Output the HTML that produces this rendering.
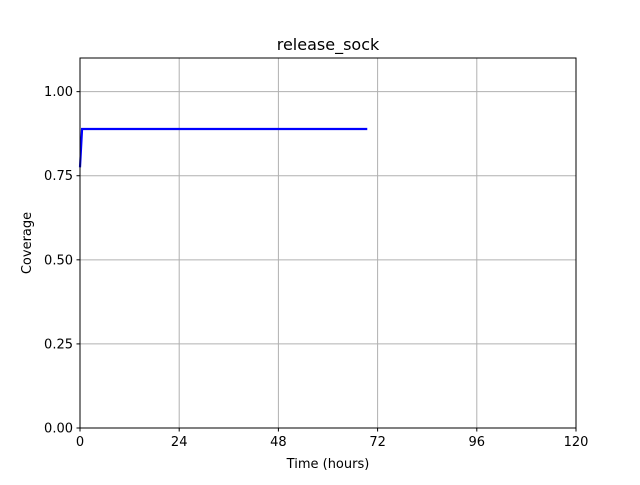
<!DOCTYPE html>
<html><head><meta charset="utf-8"><style>
body{margin:0;background:#fff;}
text{font-family:"DejaVu Sans","Liberation Sans",sans-serif;}
</style></head><body>
<svg id="chart" width="640" height="480" xmlns="http://www.w3.org/2000/svg">
<rect width="640" height="480" fill="#fff"/>
<g id="grid"></g><g id="ticks"></g><g id="series"></g>
<rect x="80" y="58" width="496" height="370" fill="none" stroke="#000" stroke-width="1"/>
<text x="328" y="50" font-size="16" text-anchor="middle">release_sock</text>
<text x="328" y="468" font-size="13" text-anchor="middle">Time (hours)</text>
<text transform="translate(31,243) rotate(-90)" font-size="13" text-anchor="middle">Coverage</text>
</svg>
<script>
const xTicks=[0,24,48,72,96,120];
const yTicks=[0,0.25,0.5,0.75,1.0];
const yTickLabels=["0.00","0.25","0.50","0.75","1.00"];
const timeHours=[0,0.5,69.5];
const coverage=[0.775,0.889,0.889];
const X=v=>80+v/120*496, Y=v=>428-v/1.1*370;
const ns="http://www.w3.org/2000/svg";
const g=document.getElementById('grid'),t=document.getElementById('ticks'),s=document.getElementById('series');
function mk(p,tag,a){const e=document.createElementNS(ns,tag);for(const k in a)e.setAttribute(k,a[k]);p.appendChild(e);return e;}
xTicks.forEach(v=>{
 const l=mk(g,'line',{x1:X(v),x2:X(v),y1:58,y2:428,stroke:'#b0b0b0','stroke-width':1});
 
 
 mk(t,'line',{x1:X(v),x2:X(v),y1:428,y2:431.5,stroke:'#000'});
 const tx=mk(t,'text',{x:X(v),y:446,'font-size':13,'text-anchor':'middle'});tx.textContent=v;
 
 
});
yTicks.forEach((v,i)=>{
 const l=mk(g,'line',{x1:80,x2:576,y1:Y(v),y2:Y(v),stroke:'#b0b0b0','stroke-width':1});
 
 
 mk(t,'line',{x1:76.5,x2:80,y1:Y(v),y2:Y(v),stroke:'#000'});
 const tx=mk(t,'text',{x:73,y:Y(v)+4.5,'font-size':13,'text-anchor':'end'});tx.textContent=yTickLabels[i];
 
 
});
const p=mk(s,'polyline',{points:timeHours.map((h,i)=>X(h)+','+Y(coverage[i])).join(' '),fill:'none',stroke:'#0000ff','stroke-width':2.2});


</script>
</body></html>
